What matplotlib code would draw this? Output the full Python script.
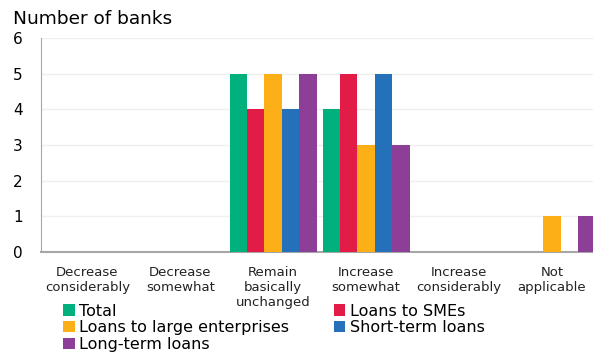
import matplotlib.pyplot as plt
import numpy as np
from matplotlib.patches import Patch

categories = ['Decrease\nconsiderably', 'Decrease\nsomewhat', 'Remain\nbasically\nunchanged',
              'Increase\nsomewhat', 'Increase\nconsiderably', 'Not\napplicable']
series = ['Total', 'Loans to SMEs', 'Loans to large enterprises', 'Short-term loans', 'Long-term loans']
total = [0, 0, 5, 4, 0, 0]
smes = [0, 0, 4, 5, 0, 0]
large = [0, 0, 5, 3, 0, 1]
short_term = [0, 0, 4, 5, 0, 0]
long_term = [0, 0, 5, 3, 0, 1]
colors = ['#00B07D', '#E31C47', '#FDAF18', '#2471B9', '#8D3F98']

plt.rcParams['font.family'] = 'DejaVu Sans'
fig = plt.figure(figsize=(5.93, 3.53), dpi=100)
ax = fig.add_axes([0.069, 0.286, 0.940, 0.606])

x = np.arange(len(categories))
w = 0.187
values = [total, smes, large, short_term, long_term]
for i, (vals, c) in enumerate(zip(values, colors)):
    ax.bar(x + (i - 2) * w, vals, width=w, color=c, edgecolor='none', zorder=3)

ax.set_xlim(-0.5, 5.5)
ax.set_ylim(0, 6)
ax.set_yticks(range(7))
ax.grid(axis='y', color='#EFEFEF', linewidth=1, zorder=0)
for s in ['top', 'right']:
    ax.spines[s].set_visible(False)
ax.spines['left'].set_color('#A6A6A6')
ax.spines['bottom'].set_color('#A6A6A6')
ax.spines['bottom'].set_linewidth(1.5)
ax.tick_params(axis='y', length=0, labelsize=11, pad=13)
ax.tick_params(axis='x', length=0, labelsize=9.5, pad=10)
ax.set_xticks(x)
ax.set_xticklabels(categories, va='top', linespacing=1.2)
for lbl in ax.get_xticklabels():
    lbl.set_color('#222222')

fig.text(0.022, 0.945, 'Number of banks', fontsize=13.3, ha='left', va='center')

# legend: column-wise fill, so reorder to get Total/SMEs on first row
order = [0, 2, 4, 1, 3]
handles = [Patch(facecolor=colors[i], edgecolor='none') for i in order]
labels = [series[i] for i in order]
fig.legend(handles, labels, ncol=2, loc='upper left', bbox_to_anchor=(0.107, 0.14),
           frameon=False, fontsize=11.5, handlelength=0.7, handleheight=0.7,
           handletextpad=0.3, labelspacing=0.1, columnspacing=2.8, borderpad=0,
           borderaxespad=0)

fig.savefig('out.png', dpi=100)
